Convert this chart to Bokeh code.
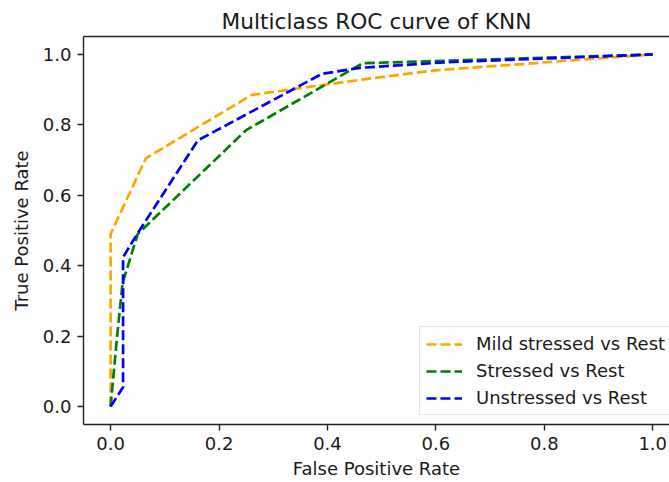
from bokeh.plotting import figure
from bokeh.models import Legend, LegendItem, LinearAxis, Range1d
from bokeh.embed import file_html
from bokeh.resources import INLINE

# Data
mild_fpr = [0.0, 0.0, 0.065, 0.26, 0.47, 0.6, 1.0]
mild_tpr = [0.0, 0.49, 0.705, 0.885, 0.93, 0.955, 1.0]

stressed_fpr = [0.0, 0.012, 0.022, 0.05, 0.25, 0.465, 1.0]
stressed_tpr = [0.0, 0.2, 0.35, 0.49, 0.785, 0.975, 1.0]

unstressed_fpr = [0.0, 0.023, 0.023, 0.049, 0.161, 0.39, 0.46, 0.62, 1.0]
unstressed_tpr = [0.0, 0.055, 0.424, 0.49, 0.756, 0.945, 0.962, 0.978, 1.0]

series_labels = ["Mild stressed vs Rest", "Stressed vs Rest", "Unstressed vs Rest"]
series_colors = ["orange", "green", "blue"]
ticks = [0.0, 0.2, 0.4, 0.6, 0.8, 1.0]
tick_labels = {0.0: "0.0", 0.2: "0.2", 0.4: "0.4", 0.6: "0.6", 0.8: "0.8", 1.0: "1.0"}

FONT = "DejaVu Sans"
TXT = "#1a1a1a"
SPINE = "#222222"

p = figure(width=669, height=482, output_backend="svg", toolbar_location=None,
           x_range=Range1d(-0.05, 1.031), y_range=Range1d(-0.051, 1.051),
           min_border_left=83, min_border_right=0, min_border_top=36, min_border_bottom=58,
           x_axis_label="False Positive Rate", y_axis_label="True Positive Rate")
p.outline_line_color = None
p.background_fill_color = "white"
p.border_fill_color = "white"
p.xgrid.visible = False
p.ygrid.visible = False

p.title.text = "Multiclass ROC curve of KNN"
p.title.text_font = FONT
p.title.text_font_size = "21.7px"
p.title.text_font_style = "normal"
p.title.text_color = TXT
p.title.align = "center"
p.title.standoff = 6

for ax in (p.xaxis[0], p.yaxis[0]):
    ax.ticker = ticks
    ax.major_label_overrides = tick_labels
    ax.minor_tick_line_color = None
    ax.major_tick_in = 0
    ax.major_tick_out = 6
    ax.major_tick_line_color = SPINE
    ax.major_tick_line_width = 1.4
    ax.axis_line_color = SPINE
    ax.axis_line_width = 1.4
    ax.major_label_text_font = FONT
    ax.major_label_text_font_size = "18px"
    ax.major_label_text_color = TXT
    ax.axis_label_text_font = FONT
    ax.axis_label_text_font_size = "18px"
    ax.axis_label_text_font_style = "normal"
    ax.axis_label_text_color = TXT

p.xaxis[0].major_label_standoff = 6
p.yaxis[0].major_label_standoff = 6
p.xaxis[0].axis_label_standoff = 5
p.yaxis[0].axis_label_standoff = 8

top = LinearAxis(ticker=[], major_label_text_font_size="0px", axis_line_color=SPINE,
                 axis_line_width=1.4, major_tick_line_color=None, minor_tick_line_color=None)
p.add_layout(top, "above")

items = []
for fx, ty, lab, col in zip([mild_fpr, stressed_fpr, unstressed_fpr],
                            [mild_tpr, stressed_tpr, unstressed_tpr],
                            series_labels, series_colors):
    r = p.line(fx, ty, line_color=col, line_width=2.7, line_dash="10 4")
    items.append(LegendItem(label=lab, renderers=[r]))

legend = Legend(items=items, location=(336, 9))
legend.label_text_font = FONT
legend.label_text_font_size = "18px"
legend.label_text_color = TXT
legend.glyph_width = 36
legend.glyph_height = 18
legend.label_height = 18
legend.label_standoff = 14
legend.spacing = 6
legend.padding = 6
legend.margin = 0
legend.border_line_color = "#cccccc"
legend.border_line_width = 1
legend.background_fill_alpha = 0.8
p.add_layout(legend, "center")

open("out.html", "w").write(file_html(p, INLINE))
